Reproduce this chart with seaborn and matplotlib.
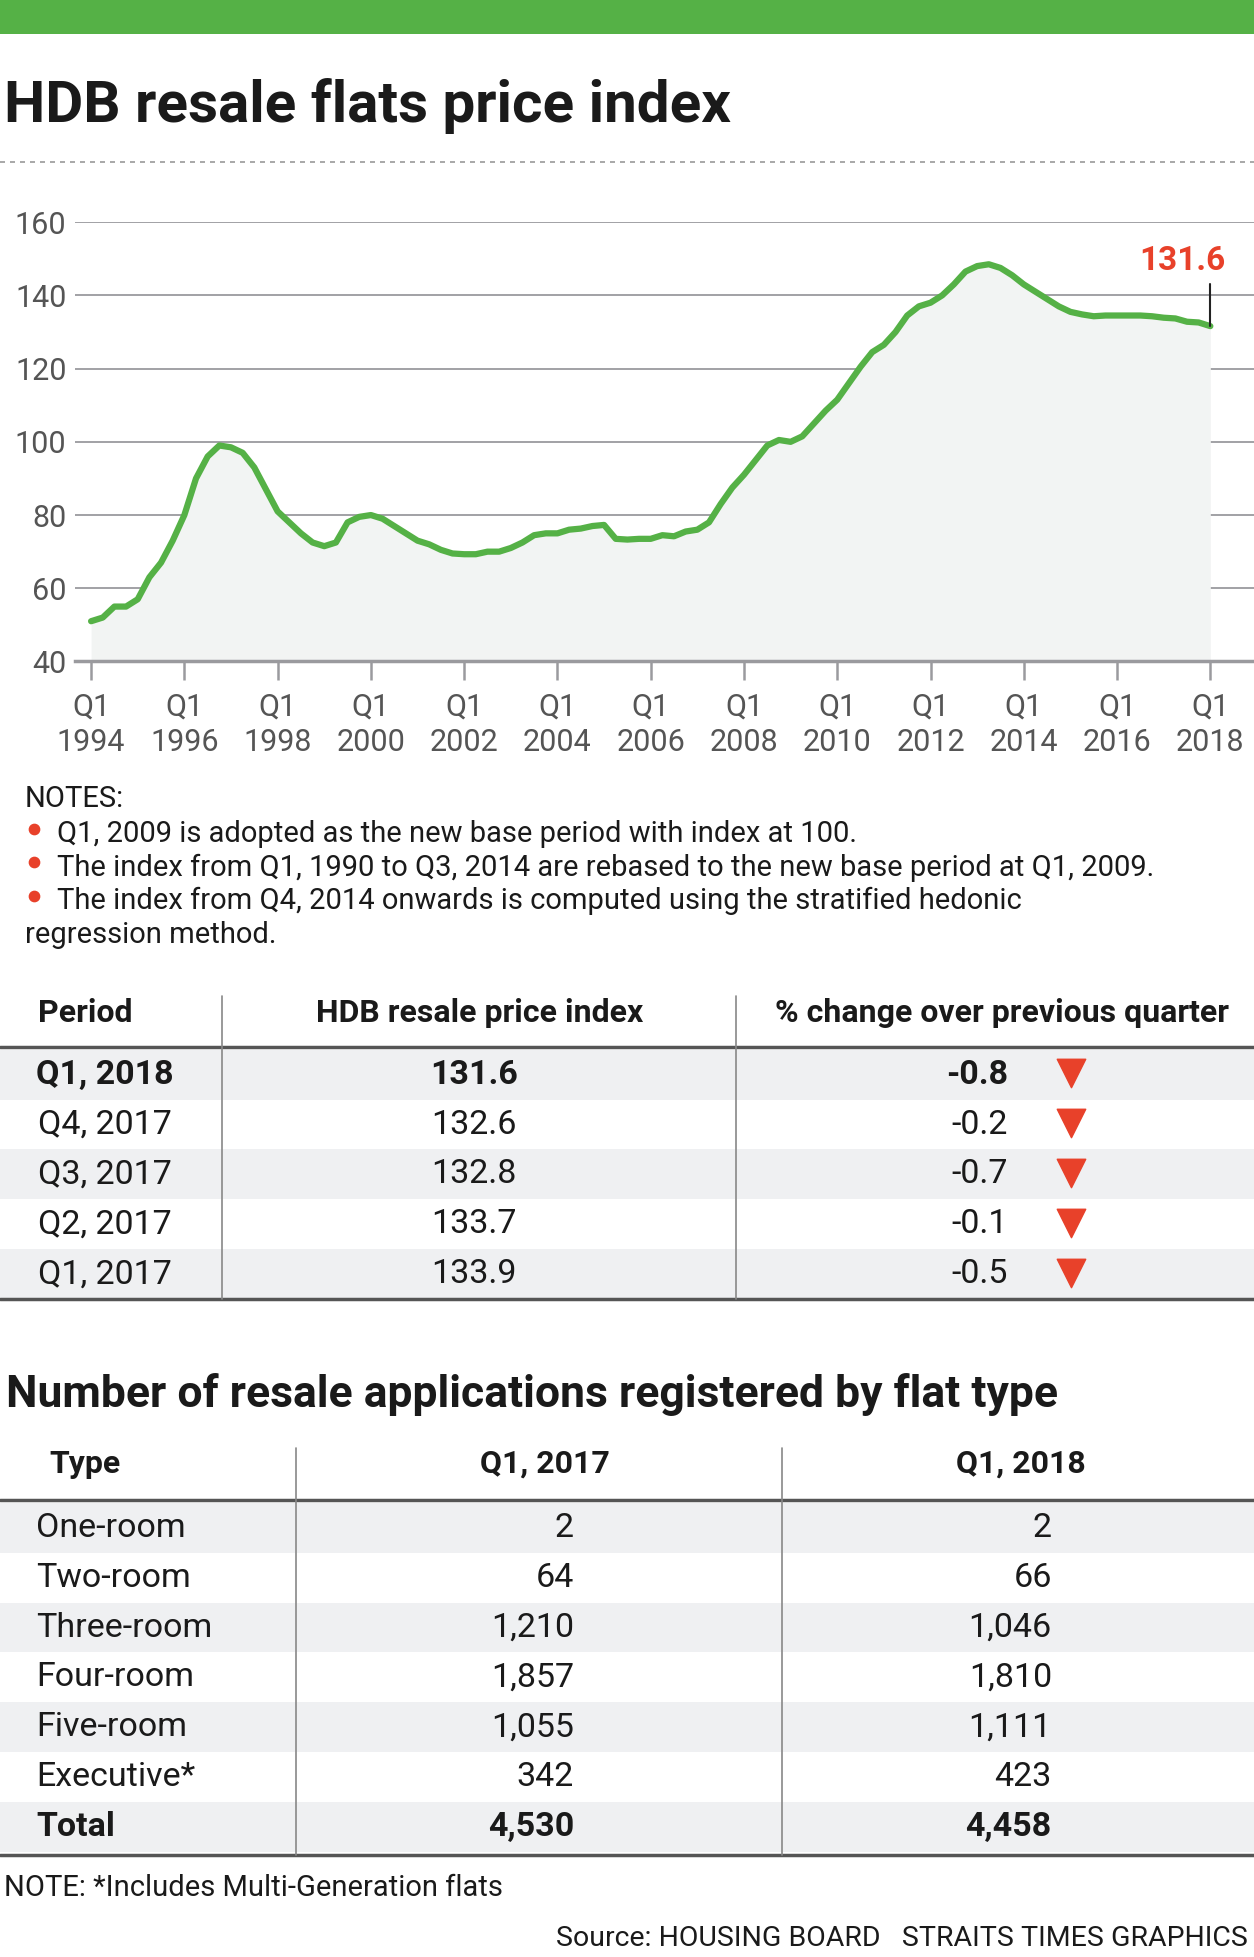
import numpy as np
import pandas as pd
import matplotlib
matplotlib.use("Agg")
import matplotlib.pyplot as plt
import seaborn as sns

# ----------------------------
# Data
# ----------------------------
years = np.arange(1994, 2018.01, 0.25)
index_values = [
    51, 52, 55, 55,
    57, 63, 67, 73,
    80, 90, 96, 99,
    98.5, 97, 93, 87,
    81, 78, 75, 72.5,
    71.5, 72.5, 78, 79.5,
    80, 79, 77, 75,
    73, 72, 70.5, 69.5,
    69.3, 69.3, 70, 70,
    71, 72.5, 74.5, 75,
    75, 76, 76.3, 77,
    77.3, 73.5, 73.3, 73.5,
    73.5, 74.5, 74.2, 75.5,
    76, 78, 83, 87.5,
    91, 95, 99, 100.5,
    100, 101.5, 105, 108.5,
    111.5, 116, 120.5, 124.5,
    126.5, 130, 134.5, 137,
    138, 140, 143, 146.5,
    148, 148.5, 147.5, 145.5,
    143, 141, 139, 137,
    135.5, 134.8, 134.3, 134.5,
    134.5, 134.5, 134.5, 134.3,
    133.9, 133.7, 132.8, 132.6,
    131.6,
]
tick_years = list(range(1994, 2019, 2))

periods = ["Q1, 2018", "Q4, 2017", "Q3, 2017", "Q2, 2017", "Q1, 2017"]
period_index = ["131.6", "132.6", "132.8", "133.7", "133.9"]
period_change = ["-0.8", "-0.2", "-0.7", "-0.1", "-0.5"]

flat_types = ["One-room", "Two-room", "Three-room", "Four-room", "Five-room", "Executive*", "Total"]
apps_2017 = ["2", "64", "1,210", "1,857", "1,055", "342", "4,530"]
apps_2018 = ["2", "66", "1,046", "1,810", "1,111", "423", "4,458"]

notes = [
    "Q1, 2009 is adopted as the new base period with index at 100.",
    "The index from Q1, 1990 to Q3, 2014 are rebased to the new base period at Q1, 2009.",
    "The index from Q4, 2014 onwards is computed using the stratified hedonic",
]

# ----------------------------
# Style
# ----------------------------
sns.set_theme(style="white")
plt.rcParams["font.family"] = ["Roboto", "DejaVu Sans"]
GREEN = "#55b146"
RED = "#e8412a"
GRID = "#9a9a9e"
SHADE = "#eff0f2"
TXT = "#1a1a1a"

W, H = 1005, 1568
fig = plt.figure(figsize=(12.54, 19.57), dpi=100)

# overlay in reference pixel coords
ov = fig.add_axes([0, 0, 1, 1])
ov.set_xlim(0, W)
ov.set_ylim(H, 0)
ov.axis("off")

ov.add_patch(plt.Rectangle((0, 0), W, 27, color="#55b146", lw=0))
ov.text(3, 85, "HDB resale flats price index", fontsize=42, fontweight="bold",
        color=TXT, va="center")
ov.plot([0, W], [130, 130], color="#999999", lw=1.2, ls=(0, (3, 3)))

# ----------------------------
# Line chart
# ----------------------------
left, right = 60, 1005
x0 = 1994 - (73 - left) / 37.375
x1 = 2018 + (right - 970) / 37.375
ax = fig.add_axes([left / W, 1 - 530 / H, (right - left) / W, (530 - 178) / H])
df = pd.DataFrame({"year": years, "index": index_values})
ax.fill_between(df["year"], 40, df["index"], color="#f2f4f3", lw=0, zorder=1)
for yv in range(60, 161, 20):
    ax.axhline(yv, color=GRID, lw=1.3, zorder=0)
sns.lineplot(data=df, x="year", y="index", color=GREEN, lw=4.5, ax=ax, zorder=3)
ax.set_xlim(x0, x1)
ax.set_ylim(40, 160)
ax.set_xlabel("")
ax.set_ylabel("")
for s in ["top", "right", "left"]:
    ax.spines[s].set_visible(False)
ax.spines["bottom"].set_color(GRID)
ax.spines["bottom"].set_linewidth(2.5)
ax.set_xticks(tick_years)
ax.set_xticklabels([f"Q1\n{y}" for y in tick_years], fontsize=22, color="#555555",
                   linespacing=1.3)
ax.tick_params(axis="x", length=14, width=1.8, color=GRID, pad=8, bottom=True)
ax.set_yticks(range(40, 161, 20))
ax.set_yticklabels([str(v) for v in range(40, 161, 20)], fontsize=22, color="#555555")
ax.tick_params(axis="y", length=0, pad=6)
ax.plot([2018, 2018], [index_values[-1], 143], color="#222222", lw=1.5, zorder=4)
ax.text(2017.4, 149.5, "131.6", color=RED, fontsize=24, fontweight="bold",
        ha="center", va="center")

# ----------------------------
# Notes
# ----------------------------
FS_NOTE = 21
ov.text(20, 640, "NOTES:", fontsize=FS_NOTE, color=TXT, va="center")
for i, n in enumerate(notes):
    yy = 668 + i * 27
    ov.scatter([27], [yy - 4], s=55, color=RED, zorder=5)
    ov.text(46, yy, n, fontsize=FS_NOTE, color=TXT, va="center")
ov.text(20, 749, "regression method.", fontsize=FS_NOTE, color=TXT, va="center")

# ----------------------------
# Table 1
# ----------------------------
FS_H = 23
FS_R = 24.5
ov.text(68, 812, "Period", fontsize=FS_H, fontweight="bold", ha="center", va="center", color=TXT)
ov.text(384, 812, "HDB resale price index", fontsize=FS_H, fontweight="bold", ha="center", va="center", color=TXT)
ov.text(803, 812, "% change over previous quarter", fontsize=FS_H, fontweight="bold", ha="center", va="center", color=TXT)
for i in range(len(periods)):
    yc = 861 + i * 40
    if i % 2 == 0:
        ov.add_patch(plt.Rectangle((0, yc - 20), W, 40, color=SHADE, lw=0))
    fw = "bold" if i == 0 else "normal"
    ov.text(84, yc, periods[i], fontsize=FS_R, fontweight=fw, ha="center", va="center", color=TXT)
    ov.text(380, yc, period_index[i], fontsize=FS_R, fontweight=fw, ha="center", va="center", color=TXT)
    ov.text(808, yc, period_change[i], fontsize=FS_R, fontweight=fw, ha="right", va="center", color=TXT)
    ov.scatter([858], [yc - 1], marker="v", s=420, color=RED, zorder=5)
ov.plot([0, W], [839, 839], color="#555555", lw=2.5)
ov.plot([0, W], [1041, 1041], color="#555555", lw=2.5)
for xv in [178, 590]:
    ov.plot([xv, xv], [798, 1041], color="#888888", lw=1.2)

# ----------------------------
# Table 2
# ----------------------------
ov.text(5, 1117, "Number of resale applications registered by flat type", fontsize=32,
        fontweight="bold", va="center", color=TXT)
ov.text(68, 1173, "Type", fontsize=FS_H, fontweight="bold", ha="center", va="center", color=TXT)
ov.text(437, 1173, "Q1, 2017", fontsize=FS_H, fontweight="bold", ha="center", va="center", color=TXT)
ov.text(818, 1173, "Q1, 2018", fontsize=FS_H, fontweight="bold", ha="center", va="center", color=TXT)
for i in range(len(flat_types)):
    yc = 1224 + i * 40
    if i % 2 == 0:
        ov.add_patch(plt.Rectangle((0, yc - 20), W, 40, color=SHADE, lw=0))
    fw = "bold" if i == len(flat_types) - 1 else "normal"
    ov.text(29, yc, flat_types[i], fontsize=FS_R, fontweight=fw, va="center", color=TXT)
    ov.text(460, yc, apps_2017[i], fontsize=FS_R, fontweight=fw, ha="right", va="center", color=TXT)
    ov.text(843, yc, apps_2018[i], fontsize=FS_R, fontweight=fw, ha="right", va="center", color=TXT)
ov.plot([0, W], [1202, 1202], color="#555555", lw=2.5)
ov.plot([0, W], [1486, 1486], color="#555555", lw=2.5)
for xv in [237, 627]:
    ov.plot([xv, xv], [1160, 1486], color="#888888", lw=1.2)

ov.text(3, 1513, "NOTE: *Includes Multi-Generation flats", fontsize=21, va="center", color=TXT)
ov.text(1000, 1553, "Source: HOUSING BOARD   STRAITS TIMES GRAPHICS", fontsize=20.5,
        ha="right", va="center", color=TXT)

fig.savefig("out.png", dpi=100)
